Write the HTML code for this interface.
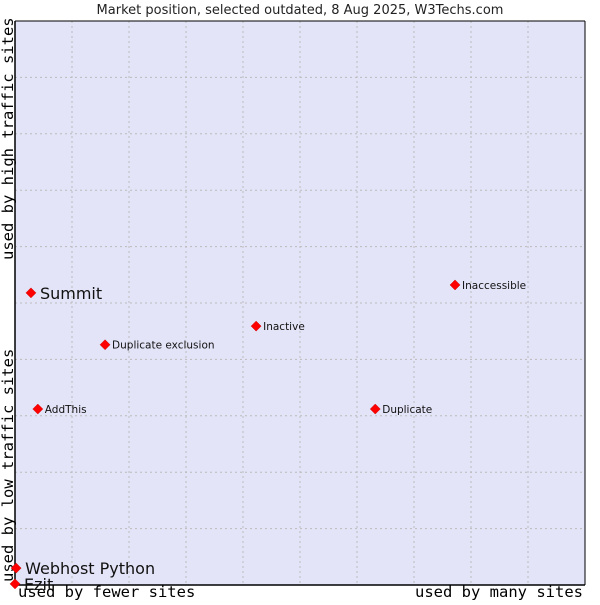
<!DOCTYPE html>
<html><head><meta charset="utf-8"><style>
body{margin:0;background:#fff;width:600px;height:600px;overflow:hidden}
svg text{font-family:"DejaVu Sans","Liberation Sans",sans-serif}
.mono{font-family:"DejaVu Sans Mono","Liberation Mono",monospace}
</style></head><body>
<svg id="chart" width="600" height="600">
<text x="300" y="14" text-anchor="middle" font-size="13" fill="#222">Market position, selected outdated, 8 Aug 2025, W3Techs.com</text>
<rect x="15" y="21" width="570" height="564" fill="#e3e4f8"/>
<g id="grid"></g>
<line x1="15" y1="21" x2="15" y2="585" stroke="#000" stroke-width="1.5"/>
<line x1="15" y1="585" x2="585" y2="585" stroke="#000" stroke-width="1.5"/>
<line x1="15" y1="21" x2="585" y2="21" stroke="#000" stroke-width="1"/>
<line x1="585" y1="21" x2="585" y2="585" stroke="#000" stroke-width="1"/>
<text class="mono" x="18" y="597" font-size="15.5">used by fewer sites</text>
<text class="mono" x="583" y="597" font-size="15.5" text-anchor="end">used by many sites</text>
<text class="mono" transform="translate(13,582) rotate(-90)" font-size="15.5">used by low traffic sites</text>
<text class="mono" transform="translate(13,260) rotate(-90)" font-size="15.5">used by high traffic sites</text>
<g id="points"></g>
</svg>
<script>
const names=["Summit","Webhost Python","Ezit","AddThis","Duplicate exclusion","Inactive","Inaccessible","Duplicate"];
const xVals=[2.8,0.2,0,4.0,15.8,42.3,77.2,63.2];
const yVals=[51.8,3.0,0.2,31.2,42.6,45.9,53.2,31.2];
const bigLabel=[true,true,true,false,false,false,false,false];
const gridTicks=[10,20,30,40,50,60,70,80,90];
const ns="http://www.w3.org/2000/svg";
const X0=15,X1=585,Y0=585,Y1=21;
const sx=v=>X0+v/100*(X1-X0);
const sy=v=>Y0-v/100*(Y0-Y1);
const grid=document.getElementById('grid');
gridTicks.forEach(t=>{
  let l=document.createElementNS(ns,'line');
  
  
  l.setAttribute('x1',sx(t));l.setAttribute('x2',sx(t));l.setAttribute('y1',Y1);l.setAttribute('y2',Y0);
  l.setAttribute('stroke','#bbb');l.setAttribute('stroke-dasharray','2,3');
  grid.appendChild(l);
  let h=document.createElementNS(ns,'line');
  
  
  h.setAttribute('x1',X0);h.setAttribute('x2',X1);h.setAttribute('y1',sy(t));h.setAttribute('y2',sy(t));
  h.setAttribute('stroke','#bbb');h.setAttribute('stroke-dasharray','2,3');
  grid.appendChild(h);
});
const pts=document.getElementById('points');
names.forEach((n,i)=>{
  const x=sx(xVals[i]),y=sy(yVals[i]);
  let c=document.createElementNS(ns,'path');
  
  
  c.setAttribute('d',`M${x} ${y-5}L${x+5} ${y}L${x} ${y+5}L${x-5} ${y}Z`);
  c.setAttribute('fill','#f00');c.setAttribute('stroke','#c00');c.setAttribute('stroke-width','0.5');
  pts.appendChild(c);
  let t=document.createElementNS(ns,'text');
  
  
  t.setAttribute('x',x+(bigLabel[i]?9:7));
  t.setAttribute('y',y+(bigLabel[i]?6:4));
  t.setAttribute('font-size',bigLabel[i]?16:10.5);
  t.setAttribute('fill','#111');
  t.textContent=n;
  pts.appendChild(t);
});
</script>
</body></html>
